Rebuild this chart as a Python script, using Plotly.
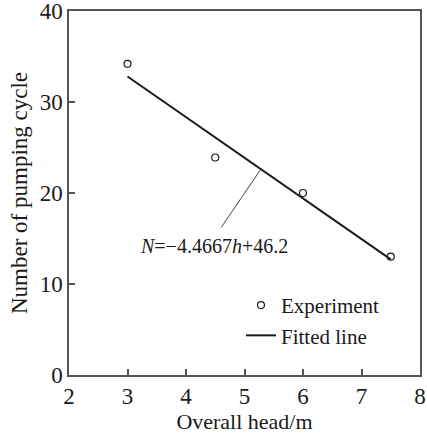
import numpy as np
import plotly.graph_objects as go

# Measured pumping cycles versus overall head
head = [3.0, 4.5, 6.0, 7.5]
cycles = [34.2, 23.9, 20.0, 13.0]

# Linear fit N = a*h + b
slope = -4.4667
intercept = 46.2
fit_h = [3.0, 7.5]
fit_n = [slope * h + intercept for h in fit_h]

x_ticks = [2, 3, 4, 5, 6, 7, 8]
y_ticks = [0, 10, 20, 30, 40]

FONT = "Liberation Serif, Times New Roman, serif"
INK = "#1a1a1a"

fig = go.Figure()
fig.add_trace(go.Scatter(
    x=head, y=cycles, mode="markers", name="Experiment",
    marker=dict(symbol="circle-open", size=7, color=INK, line=dict(width=1.2)),
))
fig.add_trace(go.Scatter(
    x=fit_h, y=fit_n, mode="lines", name="Fitted line",
    line=dict(color=INK, width=2),
))

# Leader from the equation label to the fitted line
lead_h = 5.28
fig.add_shape(type="line", x0=4.6, y0=16.2, x1=lead_h, y1=slope * lead_h + intercept,
              line=dict(color="#444", width=1))
fig.add_annotation(x=4.47, y=14.2, text="<i>N</i>=−4.4667<i>h</i>+46.2",
                   showarrow=False, font=dict(family=FONT, size=20, color=INK))

axis_common = dict(
    showgrid=False, zeroline=False, showline=True, mirror=True,
    linecolor="#555", linewidth=1.5, ticks="inside", ticklen=6,
    tickcolor="#555", tickwidth=1.5, ticklabeloverflow="allow",
    automargin=False,
    tickfont=dict(family=FONT, size=23, color=INK),
)
fig.update_xaxes(range=[2, 8], tickvals=x_ticks, ticktext=[str(v) for v in x_ticks],
                 title=dict(text="Overall head/m", font=dict(family=FONT, size=22, color=INK),
                            standoff=4),
                 **axis_common)
fig.update_yaxes(range=[0, 40], tickvals=y_ticks, ticktext=[str(v) for v in y_ticks],
                 title=dict(text="Number of pumping cycle", font=dict(family=FONT, size=23, color=INK),
                            standoff=6),
                 **axis_common)

fig.update_layout(
    width=427, height=434,
    margin=dict(l=69, r=7, t=11, b=59),
    paper_bgcolor="white", plot_bgcolor="white",
    showlegend=True,
    legend=dict(x=0.49, y=0.15, xanchor="left", yanchor="middle",
                font=dict(family=FONT, size=21, color=INK),
                bgcolor="rgba(0,0,0,0)", itemwidth=30, tracegroupgap=0),
)

fig.write_html("out.html")
